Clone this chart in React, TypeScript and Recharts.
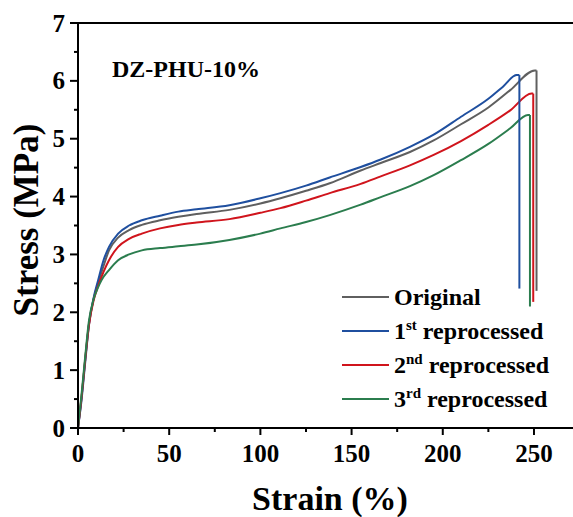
import { LineChart, Line, XAxis, YAxis, ReferenceLine, Legend } from "recharts"

// strain (%) and stress (MPa)
const strainOriginal = [0, 2, 4, 6, 8.5, 11, 14, 17, 22, 28, 35, 45, 55, 65, 83, 100, 111, 125, 138, 155, 166, 182, 195, 210, 225, 237, 250.5, 251.4, 251.4]
const stressOriginal = [0, 0.54, 1.2, 1.8, 2.22, 2.5, 2.8, 3.07, 3.29, 3.42, 3.51, 3.59, 3.65, 3.7, 3.77, 3.88, 3.97, 4.1, 4.23, 4.45, 4.58, 4.77, 4.97, 5.25, 5.54, 5.84, 6.18, 6.18, 2.37]

const strainFirst = [0, 2, 4, 6, 8.5, 11, 14, 17, 22, 28, 35, 45, 55, 65, 83, 100, 111, 125, 138, 155, 166, 182, 195, 210, 225, 233, 240.5, 242, 242]
const stressFirst = [0, 0.5, 1.15, 1.78, 2.24, 2.55, 2.9, 3.13, 3.36, 3.5, 3.59, 3.67, 3.74, 3.78, 3.85, 3.97, 4.06, 4.19, 4.33, 4.51, 4.64, 4.86, 5.07, 5.38, 5.69, 5.9, 6.1, 6.1, 2.41]

const strainSecond = [0, 2, 4, 6, 8.5, 11, 14, 17, 22, 28, 35, 45, 55, 65, 83, 100, 111, 125, 138, 155, 166, 182, 195, 210, 225, 237, 248.7, 249.6, 249.6]
const stressSecond = [0, 0.55, 1.2, 1.78, 2.2, 2.45, 2.7, 2.9, 3.13, 3.27, 3.36, 3.45, 3.51, 3.55, 3.61, 3.72, 3.8, 3.93, 4.06, 4.22, 4.35, 4.54, 4.72, 4.96, 5.24, 5.49, 5.78, 5.78, 2.18]

const strainThird = [0, 2, 4, 6, 8.5, 11, 13, 17, 22, 28, 35, 45, 55, 65, 83, 100, 111, 125, 138, 155, 166, 182, 195, 210, 225, 237, 246.7, 247.8, 247.8]
const stressThird = [0, 0.6, 1.25, 1.85, 2.22, 2.43, 2.56, 2.73, 2.9, 3.0, 3.07, 3.11, 3.14, 3.17, 3.25, 3.36, 3.45, 3.56, 3.68, 3.86, 3.99, 4.18, 4.37, 4.63, 4.91, 5.18, 5.41, 5.41, 2.1]

const xTicks = [0, 25, 50, 75, 100, 125, 150, 175, 200, 225, 250]
const yTicks = [0, 0.5, 1, 1.5, 2, 2.5, 3, 3.5, 4, 4.5, 5, 5.5, 6, 6.5, 7]

const FONT = '"Liberation Serif", "Times New Roman", serif'

const zip = (xs: number[], ys: number[]) => xs.map((x, i) => ({ x, y: ys[i] }))

const series = [
    { key: "orig", color: "#5f5f5f", data: zip(strainOriginal, stressOriginal), label: "Original", pre: "", sup: "" },
    { key: "r1", color: "#1f4f9f", data: zip(strainFirst, stressFirst), label: " reprocessed", pre: "1", sup: "st" },
    { key: "r2", color: "#d0141c", data: zip(strainSecond, stressSecond), label: " reprocessed", pre: "2", sup: "nd" },
    { key: "r3", color: "#2b7d4e", data: zip(strainThird, stressThird), label: " reprocessed", pre: "3", sup: "rd" },
]

const XTick = (props: any) => {
    const { x, y, payload } = props
    const major = payload.value % 50 === 0
    return (
        <g>
            <line x1={x} x2={x} y1={y} y2={y + (major ? 7 : 4)} stroke="#000" strokeWidth={2} />
            {major && (
                <text x={x} y={y + 34} textAnchor="middle" fontFamily={FONT} fontWeight="bold" fontSize={25} fill="#000">
                    {payload.value}
                </text>
            )}
        </g>
    )
}

const YTick = (props: any) => {
    const { x, y, payload } = props
    const major = payload.value % 1 === 0
    return (
        <g>
            <line x1={x - (major ? 8 : 4)} x2={x} y1={y} y2={y} stroke="#000" strokeWidth={2} />
            {major && (
                <text x={x - 13} y={y} dy="0.34em" textAnchor="end" fontFamily={FONT} fontWeight="bold" fontSize={25} fill="#000">
                    {payload.value}
                </text>
            )}
        </g>
    )
}

const LegendBox = () => (
    <div style={{ fontFamily: FONT, fontWeight: "bold", fontSize: 24, color: "#000" }}>
        {series.map((s) => (
            <div key={s.key} style={{ display: "flex", alignItems: "center", height: 34, lineHeight: 1 }}>
                <span style={{ display: "inline-block", width: 47, height: 2, background: s.color, marginRight: 5 }} />
                <span>
                    {s.pre}
                    {s.sup && <sup style={{ fontSize: 15, lineHeight: 0 }}>{s.sup}</sup>}
                    {s.label}
                </span>
            </div>
        ))}
    </div>
)

export default function App() {
    return (
        <div style={{ position: "absolute", left: 0, top: 0 }}>
            <LineChart width={573} height={517} margin={{ top: 23, right: 0, left: 38, bottom: 0 }}>
                <XAxis
                    type="number"
                    dataKey="x"
                    domain={[0, 271.4]}
                    ticks={xTicks}
                    interval={0}
                    allowDataOverflow
                    height={89}
                    tickSize={0}
                    tickMargin={0}
                    tickLine={false}
                    axisLine={{ stroke: "#000", strokeWidth: 2 }}
                    tick={<XTick />}
                />
                <YAxis
                    type="number"
                    dataKey="y"
                    domain={[0, 7]}
                    ticks={yTicks}
                    interval={0}
                    width={40}
                    tickSize={0}
                    tickMargin={0}
                    tickLine={false}
                    axisLine={{ stroke: "#000", strokeWidth: 2 }}
                    tick={<YTick />}
                />
                <ReferenceLine y={7} stroke="#000" strokeWidth={2} />
                {series.map((s) => (
                    // smooth loading curve up to the break point
                    <Line
                        key={s.key}
                        data={s.data.slice(0, -1)}
                        dataKey="y"
                        type="monotone"
                        stroke={s.color}
                        strokeWidth={2}
                        dot={false}
                        legendType="none"
                        isAnimationActive={false}
                    />
                ))}
                {series.map((s) => (
                    // vertical drop at fracture
                    <Line
                        key={s.key + "-break"}
                        data={s.data.slice(-2)}
                        dataKey="y"
                        type="linear"
                        stroke={s.color}
                        strokeWidth={2}
                        dot={false}
                        legendType="none"
                        isAnimationActive={false}
                    />
                ))}
                <Legend
                    layout="vertical"
                    align="center"
                    verticalAlign="middle"
                    content={<LegendBox />}
                    wrapperStyle={{ left: 342, top: 280, width: 230, height: 140 }}
                />
                <text x={112} y={77} fontFamily={FONT} fontWeight="bold" fontSize={24} fill="#000">
                    DZ-PHU-10%
                </text>
                <text x={330} y={510} textAnchor="middle" fontFamily={FONT} fontWeight="bold" fontSize={34} fill="#000">
                    Strain (%)
                </text>
                <text
                    x={0}
                    y={0}
                    transform="translate(38,220) rotate(-90)"
                    textAnchor="middle"
                    fontFamily={FONT}
                    fontWeight="bold"
                    fontSize={35}
                    fill="#000"
                >
                    Stress (MPa)
                </text>
            </LineChart>
        </div>
    )
}
